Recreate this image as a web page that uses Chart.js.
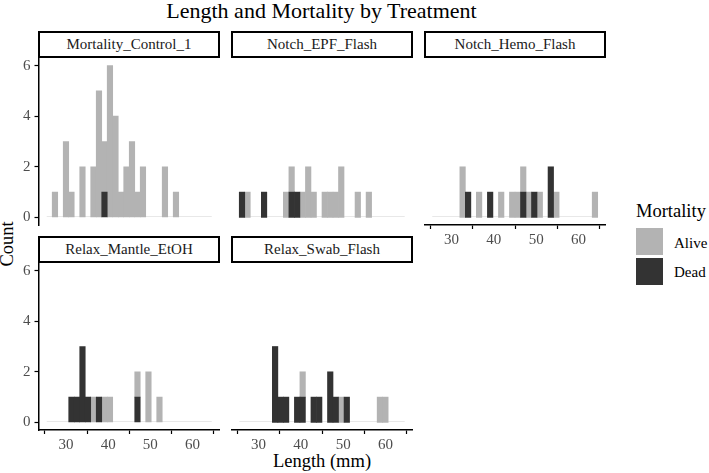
<!DOCTYPE html>
<html><head><meta charset="utf-8">
<script src="https://cdn.jsdelivr.net/npm/chart.js@4"></script>
<style>
html,body{margin:0;padding:0;background:#fff;}
body{width:709px;height:473px;position:relative;overflow:hidden;font-family:"Liberation Serif","Times New Roman",serif;}
.txt{position:absolute;white-space:nowrap;color:#000;}
.strip{position:absolute;box-sizing:border-box;border:2px solid #000;background:#fff;font-size:15px;text-align:center;color:#1a1a1a;}
.key{position:absolute;width:27px;height:27px;}
</style></head><body>
<div class="txt" style="left:0;width:643px;top:-2px;text-align:center;font-size:22px;">Length and Mortality by Treatment</div>
<div class="txt" style="left:7px;top:244px;font-size:18.5px;transform:translate(-50%,-50%) rotate(-90deg);">Count</div>
<div class="txt" style="left:322px;top:461px;font-size:18.5px;transform:translate(-50%,-50%);">Length (mm)</div>
<div class="txt" style="left:636px;top:211px;font-size:18.5px;transform:translateY(-50%);">Mortality</div>
<div class="key" style="left:636px;top:228px;background:#b3b3b3;"></div>
<div class="key" style="left:636px;top:258px;background:#333333;"></div>
<div class="txt" style="left:674px;top:243px;font-size:15px;transform:translateY(-50%);">Alive</div>
<div class="txt" style="left:674px;top:272px;font-size:15px;transform:translateY(-50%);">Dead</div>
<script>
// ---- data ----
const binCenters = [26.10, 27.40, 28.71, 30.01, 31.31, 32.62, 33.92, 35.22, 36.52, 37.83,
                    39.13, 40.43, 41.74, 43.04, 44.34, 45.65, 46.95, 48.25, 49.55, 50.86,
                    52.16, 53.46, 54.77, 56.07, 57.37, 58.68, 59.98, 61.28, 62.58, 63.89];
const xTicks = [30, 40, 50, 60];
const yTicks = [0, 2, 4, 6];
const panelNames = ["Mortality_Control_1", "Notch_EPF_Flash", "Notch_Hemo_Flash", "Relax_Mantle_EtOH", "Relax_Swab_Flash"];
const seriesNames = ["Alive", "Dead"];

const aliveControl = [0,1,0,3,1,0,2,0,2,5,2,6,4,1,2,3,1,2,0,0,0,2,0,1,0,0,0,0,0,0];
const deadControl  = [0,0,0,0,0,0,0,0,0,0,1,0,0,0,0,0,0,0,0,0,0,0,0,0,0,0,0,0,0,0];
const aliveEPF     = [0,1,0,0,0,0,0,0,1,1,0,1,2,1,0,1,1,1,2,0,0,1,0,1,0,0,0,0,0,0];
const deadEPF      = [1,0,0,0,1,0,0,0,0,1,1,0,0,0,0,0,0,0,0,0,0,0,0,0,0,0,0,0,0,0];
const aliveHemo    = [0,0,0,0,0,2,0,0,1,0,0,0,1,0,1,1,1,1,0,1,0,0,1,0,0,0,0,0,0,1];
const deadHemo     = [0,0,0,0,0,0,1,0,0,0,1,0,0,0,0,0,1,0,1,0,0,2,0,0,0,0,0,0,0,0];
const aliveMantle  = [0,0,0,0,0,0,0,0,1,0,1,1,0,0,0,0,1,0,2,0,1,0,0,0,0,0,0,0,0,0];
const deadMantle   = [0,0,0,0,1,1,3,1,0,1,0,0,0,0,0,0,1,0,0,0,0,0,0,0,0,0,0,0,0,0];
const aliveSwab    = [0,0,0,0,0,0,0,0,0,0,0,1,0,0,0,0,0,0,1,0,0,0,0,0,0,1,1,0,0,0];
const deadSwab     = [0,0,0,0,0,0,3,1,1,0,1,1,0,1,1,0,2,1,0,1,0,0,0,0,0,0,0,0,0,0];

const aliveByPanel = [aliveControl, aliveEPF, aliveHemo, aliveMantle, aliveSwab];
const deadByPanel  = [deadControl, deadEPF, deadHemo, deadMantle, deadSwab];

// ---- layout / style ----
const ALIVE_COLOR = '#b3b3b3', DEAD_COLOR = '#333333';
const colX = [38, 231, 424], rowY = [58, 263];
const PW = 182, PH = 167, STRIP_H = 27;
const X_MIN = 23.5, X_MAX = 66.5, Y_MIN = -0.3, Y_MAX = 6.3;
const FONT = '"Liberation Serif", "Times New Roman", serif';
Chart.defaults.font.family = FONT;
const panelPos = [[0,0],[1,0],[2,0],[0,1],[1,1]];
const showXAxis = [false,false,true,true,true];
const showYAxis = [true,false,false,true,false];

const baselinePlugin = {
  id: 'baseline',
  beforeDatasetsDraw(chart) {
    const xs = chart.scales.x, ys = chart.scales.y, ctx = chart.ctx;
    const half = (binCenters[1] - binCenters[0]) / 2;
    const y = Math.round(ys.getPixelForValue(0)) - 0.5;
    ctx.save();
    ctx.strokeStyle = '#e8e8e8'; ctx.lineWidth = 1;
    ctx.beginPath();
    ctx.moveTo(xs.getPixelForValue(binCenters[0] - half), y);
    ctx.lineTo(xs.getPixelForValue(binCenters[binCenters.length - 1] + half), y);
    ctx.stroke();
    ctx.restore();
  }
};

// zero-count bins are kept as empty (null) bars so they are not drawn
const toPoints = arr => binCenters.map((c,k) => ({x: c, y: arr[k] === 0 ? null : arr[k]}));

function buildChart(cv, i) {
  const sx = showXAxis[i], sy = showYAxis[i];
  return new Chart(cv, {
    type: 'bar',
    data: {
      datasets: [
        { label: seriesNames[1], data: toPoints(deadByPanel[i]), backgroundColor: DEAD_COLOR },
        { label: seriesNames[0], data: toPoints(aliveByPanel[i]), backgroundColor: ALIVE_COLOR }
      ]
    },
    options: {
      responsive: false, animation: false, events: [],
      layout: { padding: 0 },
      plugins: { legend: { display: false }, tooltip: { enabled: false }, title: { display: false } },
      datasets: { bar: { barPercentage: 1, categoryPercentage: 1, borderWidth: 0 } },
      scales: {
        x: {
          type: 'linear', min: X_MIN, max: X_MAX, offset: false, stacked: true, display: sx,
          afterBuildTicks: s => { s.ticks = xTicks.map(v => ({value: v})); },
          ticks: { font: { family: FONT, size: 15 }, color: '#4d4d4d', padding: 2, maxRotation: 0, autoSkip: false },
          grid: { display: true, drawOnChartArea: false, drawTicks: true, tickLength: 4, tickColor: '#000', tickWidth: 1.2 },
          border: { display: true, color: '#000', width: 1.5 }
        },
        y: {
          type: 'linear', min: Y_MIN, max: Y_MAX, stacked: true, display: sy,
          afterBuildTicks: s => { s.ticks = yTicks.map(v => ({value: v})); },
          ticks: { font: { family: FONT, size: 15 }, color: '#4d4d4d', padding: 4 },
          grid: { display: true, drawOnChartArea: false, drawTicks: true, tickLength: 4, tickColor: '#000', tickWidth: 1.2 },
          border: { display: true, color: '#000', width: 1.5 }
        }
      }
    },
    plugins: [baselinePlugin]
  });
}

function makeCanvas(w, h) {
  const cv = document.createElement('canvas');
  cv.width = w; cv.height = h;
  cv.style.position = 'absolute';
  cv.style.left = '0px'; cv.style.top = '0px';
  document.body.appendChild(cv);
  return cv;
}

panelNames.forEach((name, i) => {
  const [c, r] = panelPos[i];
  const x0 = colX[c], y0 = rowY[r];
  let w = PW + 60, h = PH + 60;
  let cv = makeCanvas(w, h);
  let ch = buildChart(cv, i);
  let ca = ch.chartArea;
  const nw = w + (PW - (ca.right - ca.left));
  const nh = h + (PH - (ca.bottom - ca.top));
  ch.destroy(); cv.remove();
  cv = makeCanvas(nw, nh);
  ch = buildChart(cv, i);
  ca = ch.chartArea;
  cv.style.left = (x0 - ca.left) + 'px';
  cv.style.top = (y0 - ca.top) + 'px';
  const s = document.createElement('div');
  s.className = 'strip';
  s.style.left = x0 + 'px'; s.style.top = (y0 - STRIP_H) + 'px';
  s.style.width = PW + 'px'; s.style.height = STRIP_H + 'px';
  s.style.lineHeight = (STRIP_H - 4) + 'px';
  s.textContent = name;
  document.body.appendChild(s);
});
</script>
</body></html>
